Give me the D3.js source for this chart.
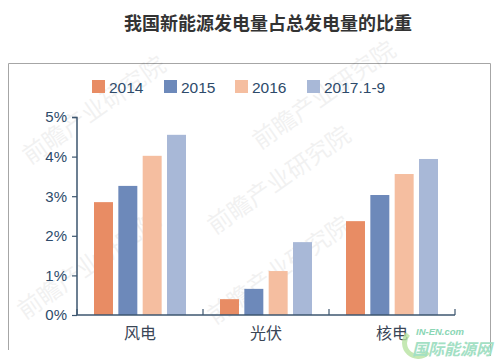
<!DOCTYPE html>
<html><head><meta charset="utf-8">
<script src="https://cdn.jsdelivr.net/npm/d3@7"></script>
<style>body{margin:0;background:#fff}svg{display:block}</style>
</head><body>
<script>
const categories = ["风电", "光伏", "核电"];
const seriesNames = ["2014", "2015", "2016", "2017.1-9"];
const s2014 = [2.85, 0.40, 2.37];
const s2015 = [3.26, 0.66, 3.03];
const s2016 = [4.02, 1.11, 3.56];
const s2017 = [4.55, 1.84, 3.94];
const yTicks = [0, 1, 2, 3, 4, 5];
const colors = ["#e88c64", "#6d89ba", "#f5bea0", "#a8b8d7"];
const title = "我国新能源发电量占总发电量的比重";

const series = [s2014, s2015, s2016, s2017];
const W = 502, H = 359;
const svg = d3.select("body").append("svg").attr("width", W).attr("height", H);

// title
svg.append("text").attr("x", 268).attr("y", 30).attr("text-anchor", "middle")
  .attr("font-family", "Noto Sans CJK SC").attr("font-weight", "bold").attr("font-size", 18)
  .attr("fill", "#333").text(title);

// frame (three sides)
svg.append("path").attr("d", "M8.5,350 V63.5 H490.5 V356").attr("fill", "none")
  .attr("stroke", "#a6a6a6").attr("stroke-width", 1);

// watermarks
const wm = [[30, 165], [215, 235], [25, 320], [260, 150], [215, 325]];
wm.forEach(([x, y]) => {
  svg.append("text").attr("transform", `translate(${x},${y}) rotate(-35)`)
    .attr("font-family", "Noto Sans CJK SC").attr("font-size", 24)
    .attr("fill", "#000").attr("opacity", 0.05).text("前瞻产业研究院");
});

const x0 = d3.scaleBand().domain(categories).range([77, 455]);
const x1 = d3.scaleBand().domain(seriesNames).range([0, 92]).paddingInner(0.22);
const y = d3.scaleLinear().domain([0, 5]).range([315, 117]);

const axisColor = "#3d566f";
const g = svg.append("g");
// bars
seriesNames.forEach((s, i) => {
  g.selectAll(".b" + i).data(categories).enter().append("rect")
    .attr("x", c => x0(c) + x0.bandwidth() / 2 - 46 + x1(s))
    .attr("width", x1.bandwidth())
    .attr("y", (c, j) => y(series[i][j]))
    .attr("height", (c, j) => y(0) - y(series[i][j]))
    .attr("fill", colors[i]);
});

// y axis
const ya = svg.append("g").attr("transform", "translate(77,0)")
  .call(d3.axisLeft(y).tickValues(yTicks).tickFormat(d => d + "%").tickSize(5).tickPadding(5));
ya.select(".domain").attr("stroke", axisColor).attr("stroke-width", 1.5).attr("d", "M-5,117.5H0V315");
ya.selectAll(".tick line").attr("stroke", axisColor).attr("stroke-width", 1.2);
ya.selectAll(".tick text").attr("font-family", "Liberation Sans, Arial").attr("font-size", 15)
  .attr("fill", "#2d4a6a");

// x axis
const xa = svg.append("g").attr("transform", "translate(0,315)")
  .call(d3.axisBottom(x0).tickSize(0).tickPadding(10));
xa.select(".domain").attr("stroke", axisColor).attr("stroke-width", 1.5).attr("d", "M77,0H455");
xa.selectAll(".tick text").attr("font-family", "Noto Sans CJK SC").attr("font-size", 16)
  .attr("fill", "#3a4656").attr("dy", "0.9em");
const bounds = [x0.range()[0], ...categories.map(c => x0(c) + x0.bandwidth())];
svg.selectAll(".xt").data(bounds).enter().append("line")
  .attr("x1", d => d).attr("x2", d => d).attr("y1", 309).attr("y2", 315)
  .attr("stroke", axisColor).attr("stroke-width", 1.2);

// legend
const legX = [92, 164, 235, 307];
seriesNames.forEach((s, i) => {
  svg.append("rect").attr("x", legX[i]).attr("y", 80).attr("width", 13).attr("height", 13).attr("fill", colors[i]);
  svg.append("text").attr("x", legX[i] + 17).attr("y", 92.5).attr("font-family", "Liberation Sans, Arial")
    .attr("font-size", 15.5).attr("fill", "#2d4a6a").text(s);
});

// IN-EN logo
svg.append("path").attr("d", "M408,334 A12,12 0 1,0 428,352").attr("fill", "none").attr("stroke", "#b7e2a0").attr("stroke-width", 5).attr("opacity", 0.8);
svg.append("text").attr("x", 416).attr("y", 335).attr("font-family", "Liberation Sans, Arial")
  .attr("font-style", "italic").attr("font-weight", "bold").attr("font-size", 9.5).attr("fill", "#8ad6b4").text("IN-EN.com");
svg.append("text").attr("x", 412).attr("y", 355).attr("font-family", "Noto Sans CJK SC")
  .attr("font-style", "italic").attr("font-weight", "bold").attr("font-size", 16).attr("fill", "#a3e0c4").text("国际能源网");
</script>
</body></html>
